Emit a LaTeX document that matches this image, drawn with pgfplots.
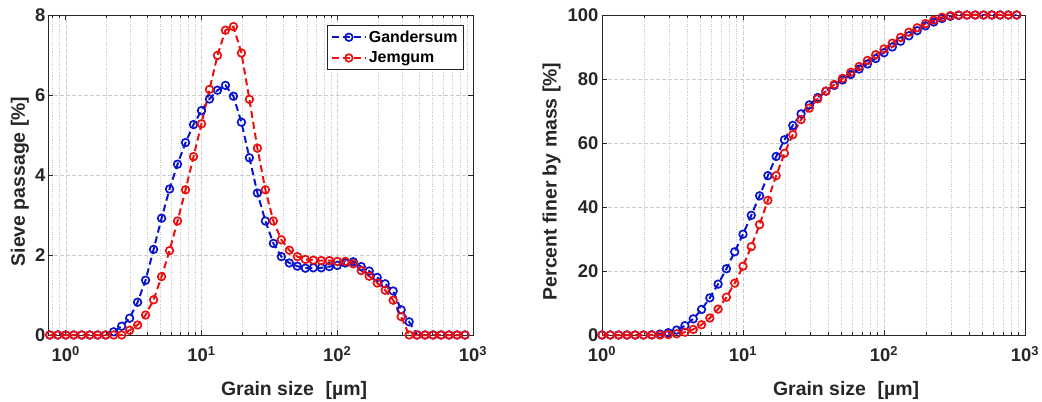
\documentclass[border=0pt]{standalone}
\usepackage{fontspec}
\setmainfont{Liberation Sans}
\usepackage{pgfplots}
\usepackage{pgfplotstable}
\pgfplotsset{compat=1.18}
\definecolor{mblue}{RGB}{10,20,205}
\definecolor{mred}{RGB}{235,15,15}
\definecolor{axgray}{RGB}{38,38,38}

% Sieve passage [%] (left panel)
\pgfplotstableread{
x        g     j
0.7627   0     0
0.8733   0     0
1.0000   0     0
1.1450   0     0
1.3111   0     0
1.5013   0     0
1.7191   0     0
1.9684   0     0
2.2539   0.08  0
2.5808   0.22  0
2.9551   0.42  0.12
3.3837   0.82  0.25
3.8745   1.37  0.50
4.4366   2.14  0.88
5.0802   2.92  1.46
5.8171   3.65  2.11
6.6608   4.27  2.85
7.6270   4.81  3.63
8.7333   5.26  4.46
10.000   5.61  5.28
11.450   5.90  6.14
13.111   6.12  6.99
15.013   6.24  7.62
17.191   5.97  7.71
19.684   5.32  7.05
22.539   4.43  5.89
25.808   3.55  4.67
29.551   2.85  3.63
33.837   2.29  2.85
38.745   1.96  2.38
44.366   1.80  2.12
50.802   1.72  1.96
58.171   1.67  1.89
66.608   1.68  1.87
76.270   1.68  1.86
87.333   1.71  1.86
100.00   1.74  1.84
114.50   1.80  1.84
131.11   1.83  1.78
150.13   1.71  1.61
171.91   1.60  1.47
196.84   1.44  1.30
225.39   1.28  1.12
258.08   1.10  0.87
295.51   0.63  0.46
338.37   0.33  0
387.45   0     0
443.66   0     0
508.02   0     0
581.71   0     0
666.08   0     0
762.70   0     0
873.33   0     0
}\sievetable

% Percent finer by mass [%] (right panel)
\pgfplotstableread{
x        g      j
1.0000   0      0
1.1450   0      0
1.3111   0      0
1.5013   0      0
1.7191   0      0
1.9684   0      0
2.2539   0.08   0
2.5808   0.30   0
2.9551   0.72   0.12
3.3837   1.54   0.37
3.8745   2.91   0.87
4.4366   5.05   1.75
5.0802   7.97   3.2
5.8171   11.6   5.3
6.6608   15.9   8.1
7.6270   20.7   11.8
8.7333   26.0   16.2
10.000   31.5   21.5
11.450   37.4   27.6
13.111   43.5   34.5
15.013   49.8   42.1
17.191   55.8   49.8
19.684   61.0   56.8
22.539   65.5   62.6
25.808   69.1   67.3
29.551   71.9   70.9
33.837   74.2   73.8
38.745   76.2   76.2
44.366   78.0   78.3
50.802   79.7   80.2
58.171   81.4   82.1
66.608   83.1   83.9
76.270   84.7   85.8
87.333   86.4   87.6
100.00   88.2   89.4
114.50   90.0   91.2
131.11   91.8   93.0
150.13   93.5   94.6
171.91   95.1   96.0
196.84   96.6   97.3
225.39   97.8   98.4
258.08   98.9   99.3
295.51   99.6   99.8
338.37   99.9   100
387.45   100    100
443.66   100    100
508.02   100    100
581.71   100    100
666.08   100    100
762.70   100    100
873.33   100    100
}\cumtable

\begin{document}
\begin{tikzpicture}
\path[use as bounding box] (-48bp,-67bp) rectangle (994bp,335bp);
\begin{axis}[
  scale only axis, width=425bp, height=320bp, xmode=log, clip=false,
  axis line style={axgray, line width=0.8bp},
  tick style={axgray, line width=0.6bp},
  major tick length=5bp, minor tick length=3bp,
  tick align=inside,
  xmajorgrids, xminorgrids, ymajorgrids,
  major grid style={gray!40, dash pattern=on 4bp off 2bp, line width=0.5bp},
  minor grid style={gray!45, dotted, line width=0.5bp},
  /pgf/number format/assume math mode=true,
  tick label style={font=\fontsize{18.5}{18.5}\selectfont\bfseries, text=axgray},
  xticklabel style={yshift=-8bp},
  yticklabel style={xshift=1bp},
  label style={font=\fontsize{19.5}{19.5}\selectfont\bfseries, text=axgray},
  xtick={1,10,100,1000},
  xticklabels={10\textsuperscript{0},10\textsuperscript{1},10\textsuperscript{2},10\textsuperscript{3}},
  minor xtick={0.8,0.9,2,3,4,5,6,7,8,9,20,30,40,50,60,70,80,90,200,300,400,500,600,700,800,900},
  xmin=0.74, xmax=1000, ymin=0, ymax=8, ytick={0,2,4,6,8},
  xlabel={Grain size\hspace{0.6em}[µm]},
  xlabel style={at={(axis description cs:0.579,-0.172)}, anchor=center},
  ylabel={Sieve passage [\%]},
  ylabel style={at={(axis description cs:-0.066,0.48)}, anchor=center},
  legend style={at={(axis description cs:0.977,0.969)}, anchor=north east,
    font=\fontsize{16}{16}\selectfont\bfseries, draw=axgray, line width=0.6bp,
    inner sep=3.5bp, row sep=4bp},
  legend cell align=left,
  legend image code/.code={\draw[mark repeat=2,mark phase=2,#1] plot coordinates {(0bp,0bp) (17bp,0bp) (34bp,0bp)};},
]
\addplot[mblue, line width=2bp, dash pattern=on 7bp off 4bp, mark=o, mark size=3.8bp, mark options={solid, line width=1.7bp}] table[x=x,y=g] {\sievetable};
\addlegendentry{Gandersum}
\addplot[mred, line width=2bp, dash pattern=on 7bp off 4bp, mark=o, mark size=3.8bp, mark options={solid, line width=1.7bp}] table[x=x,y=j] {\sievetable};
\addlegendentry{Jemgum}
\end{axis}
\begin{axis}[
  at={(554bp,0bp)},
  scale only axis, width=423bp, height=320bp, xmode=log, clip=false,
  axis line style={axgray, line width=0.8bp},
  tick style={axgray, line width=0.6bp},
  major tick length=5bp, minor tick length=3bp,
  tick align=inside,
  xmajorgrids, xminorgrids, ymajorgrids,
  major grid style={gray!40, dash pattern=on 4bp off 2bp, line width=0.5bp},
  minor grid style={gray!45, dotted, line width=0.5bp},
  /pgf/number format/assume math mode=true,
  tick label style={font=\fontsize{18.5}{18.5}\selectfont\bfseries, text=axgray},
  xticklabel style={yshift=-8bp},
  label style={font=\fontsize{19.5}{19.5}\selectfont\bfseries, text=axgray},
  xtick={1,10,100,1000},
  xticklabels={10\textsuperscript{0},10\textsuperscript{1},10\textsuperscript{2},10\textsuperscript{3}},
  minor xtick={2,3,4,5,6,7,8,9,20,30,40,50,60,70,80,90,200,300,400,500,600,700,800,900},
  xmin=1, xmax=1000, ymin=0, ymax=100, ytick={0,20,40,60,80,100},
  xlabel={Grain size\hspace{0.6em}[µm]},
  xlabel style={at={(axis description cs:0.577,-0.172)}, anchor=center},
  ylabel={Percent finer by mass [\%]},
  ylabel style={at={(axis description cs:-0.119,0.48)}, anchor=center},
]
\addplot[mblue, line width=2bp, dash pattern=on 7bp off 4bp, mark=o, mark size=3.8bp, mark options={solid, line width=1.7bp}] table[x=x,y=g] {\cumtable};
\addplot[mred, line width=2bp, dash pattern=on 7bp off 4bp, mark=o, mark size=3.8bp, mark options={solid, line width=1.7bp}] table[x=x,y=j] {\cumtable};
\end{axis}
\end{tikzpicture}
\end{document}
